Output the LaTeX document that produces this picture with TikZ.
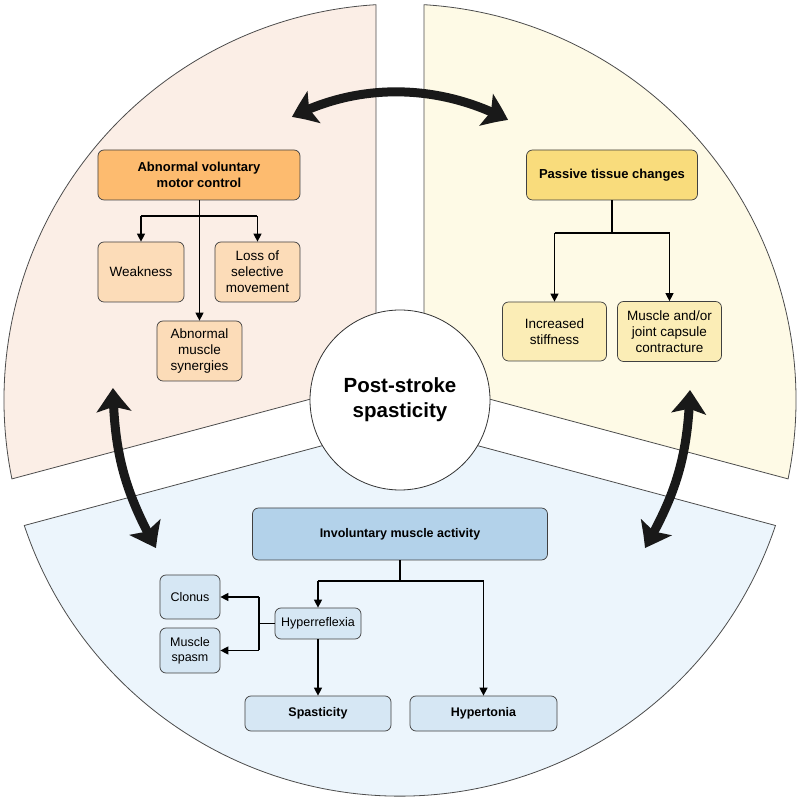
\documentclass[tikz,border=0pt]{standalone}
\usepackage{fontspec}
\setmainfont{Liberation Sans}
\usetikzlibrary{arrows.meta,bending}
\definecolor{lin}{HTML}{FBEEE6}\definecolor{lout}{HTML}{F1DCD6}
\definecolor{rin}{HTML}{FEFAE6}\definecolor{rout}{HTML}{F3EBD0}
\definecolor{bin}{HTML}{ECF5FC}\definecolor{bout}{HTML}{DCDDF0}
\definecolor{lhead}{HTML}{FDBB6F}\definecolor{lchild}{HTML}{FCDCB8}
\definecolor{rhead}{HTML}{F9DC7C}\definecolor{rchild}{HTML}{FBEDB6}
\definecolor{bhead}{HTML}{B3D2EA}\definecolor{bchild}{HTML}{D6E7F4}
\pgfdeclareradialshading{lsh}{\pgfpoint{0bp}{0bp}}{color(0bp)=(lin);color(33bp)=(lin);color(50bp)=(lout);color(80bp)=(lout)}
\pgfdeclareradialshading{rsh}{\pgfpoint{0bp}{0bp}}{color(0bp)=(rin);color(33bp)=(rin);color(50bp)=(rout);color(80bp)=(rout)}
\pgfdeclareradialshading{bsh}{\pgfpoint{0bp}{0bp}}{color(0bp)=(bin);color(33bp)=(bin);color(50bp)=(bout);color(80bp)=(bout)}
\begin{document}
\begin{tikzpicture}[x=1pt,y=1pt,
  box/.style={draw=black!75,line width=0.7pt,rounded corners=6pt,align=center,inner sep=0pt,font=\fontsize{13.5}{16}\selectfont},
  hd/.style={box,font=\fontsize{13}{15.5}\selectfont\bfseries},
  con/.style={line width=1.3pt,-{Triangle[length=8pt,width=8pt]}},
  ln/.style={line width=1.3pt},
  big/.style={line width=9pt,{Stealth[length=24pt,width=34pt,inset=5pt,bend]}-{Stealth[length=24pt,width=34pt,inset=5pt,bend]}},
  sector/.style={draw=black!70,line width=0.8pt}]
\useasboundingbox (-400,-399) rectangle (400,400);
% sectors
\begin{scope}
\clip (-24,18.4) -- (-24,395.3) arc[start angle=93.47,end angle=191.5,radius=396] -- cycle;
\shade[shading=lsh] (-396,-396) rectangle (396,396);
\end{scope}
\draw[sector] (-24,18.4) -- (-24,395.3) arc[start angle=93.47,end angle=191.5,radius=396] -- cycle;
\begin{scope}
\clip (24,18.4) -- (24,395.3) arc[start angle=86.53,end angle=-11.5,radius=396] -- cycle;
\shade[shading=rsh] (-396,-396) rectangle (396,396);
\end{scope}
\draw[sector] (24,18.4) -- (24,395.3) arc[start angle=86.53,end angle=-11.5,radius=396] -- cycle;
\begin{scope}
\clip (0,-24.85) -- (-375.7,-125.5) arc[start angle=198.47,end angle=341.53,radius=396] -- cycle;
\shade[shading=bsh] (-396,-396) rectangle (396,396);
\end{scope}
\draw[sector] (0,-24.85) -- (-375.7,-125.5) arc[start angle=198.47,end angle=341.53,radius=396] -- cycle;
% center
\node[circle,draw=black!80,fill=white,line width=0.8pt,minimum size=180pt,inner sep=0pt,align=center,font=\fontsize{20.5}{25}\selectfont\bfseries] (c) at (0,0) {Post-stroke\\spasticity};
% left
\node[hd,fill=lhead,minimum width=202pt,minimum height=50pt] (avm) at (-201,225) {Abnormal voluntary\\motor control};
\node[box,fill=lchild,minimum width=86pt,minimum height=60pt] (weak) at (-259,128) {Weakness};
\node[box,fill=lchild,minimum width=85pt,minimum height=60pt] (loss) at (-142.5,128) {Loss of\\selective\\movement};
\node[box,fill=lchild,minimum width=85pt,minimum height=60pt] (syn) at (-200.5,49) {Abnormal\\muscle\\synergies};
\coordinate (lj) at (-201,184);
\draw[con] (avm.south -| syn.north) -- (syn.north);
\draw[ln] (lj -| weak.north) -- (lj -| loss.north);
\draw[con] (lj -| weak.north) -- (weak.north);
\draw[con] (lj -| loss.north) -- (loss.north);
% right
\node[hd,fill=rhead,minimum width=171pt,minimum height=50pt] (ptc) at (212,225) {Passive tissue changes};
\node[box,fill=rchild,minimum width=104pt,minimum height=59pt] (stiff) at (154.5,68.5) {Increased\\stiffness};
\node[box,fill=rchild,minimum width=104pt,minimum height=60pt] (musc) at (269.5,68.5) {Muscle and/or\\joint capsule\\contracture};
\coordinate (rj) at (212,167);
\draw[ln] (ptc.south) -- (rj);
\draw[ln] (rj -| stiff.north) -- (rj -| musc.north);
\draw[con] (rj -| stiff.north) -- (stiff.north);
\draw[con] (rj -| musc.north) -- (musc.north);
% bottom
\node[hd,fill=bhead,minimum width=295pt,minimum height=52pt,font=\fontsize{12.5}{15}\selectfont\bfseries] (ima) at (0,-134) {Involuntary muscle activity};
\node[box,fill=bchild,minimum width=86pt,minimum height=31pt,font=\fontsize{12.5}{15}\selectfont] (hyp) at (-82,-223.5) {Hyperreflexia};
\node[box,fill=bchild,minimum width=60pt,minimum height=44pt,font=\fontsize{12.5}{15}\selectfont] (clo) at (-210,-197) {Clonus};
\node[box,fill=bchild,minimum width=60pt,minimum height=45pt,font=\fontsize{12.5}{15}\selectfont] (spa) at (-210,-250.5) {Muscle\\spasm};
\node[hd,fill=bchild,minimum width=146pt,minimum height=35pt,font=\fontsize{12.5}{15}\selectfont\bfseries] (spt) at (-82,-313.5) {Spasticity};
\node[hd,fill=bchild,minimum width=147pt,minimum height=35pt,font=\fontsize{12.5}{15}\selectfont\bfseries] (hto) at (83.5,-313.5) {Hypertonia};
\coordinate (bj) at (0,-181);
\coordinate (hj) at (-141,-223.5);
\draw[ln] (ima.south) -- (bj);
\draw[ln] (bj -| hyp.north) -- (bj -| hto.north);
\draw[con] (bj -| hyp.north) -- (hyp.north);
\draw[con] (bj -| hto.north) -- (hto.north);
\draw[ln] (hyp.west) -- (hj);
\draw[ln] (hj |- clo.east) -- (hj |- spa.east);
\draw[con] (hj |- clo.east) -- (clo.east);
\draw[con] (hj |- spa.east) -- (spa.east);
\draw[con] (hyp.south) -- (spt.north);
% big arrows
\coordinate (ta) at (-108,283);
\coordinate (tb) at (108,280);
\coordinate (la) at (-287,12);
\coordinate (lb) at (-244,-148);
\coordinate (ra) at (290,10);
\coordinate (rb) at (245,-148);
\draw[big,black!90] (ta) .. controls (-40,318) and (40,316) .. (tb);
\draw[big,black!90] (la) to[bend right=14] (lb);
\draw[big,black!90] (ra) to[bend left=14] (rb);
\end{tikzpicture}
\end{document}
